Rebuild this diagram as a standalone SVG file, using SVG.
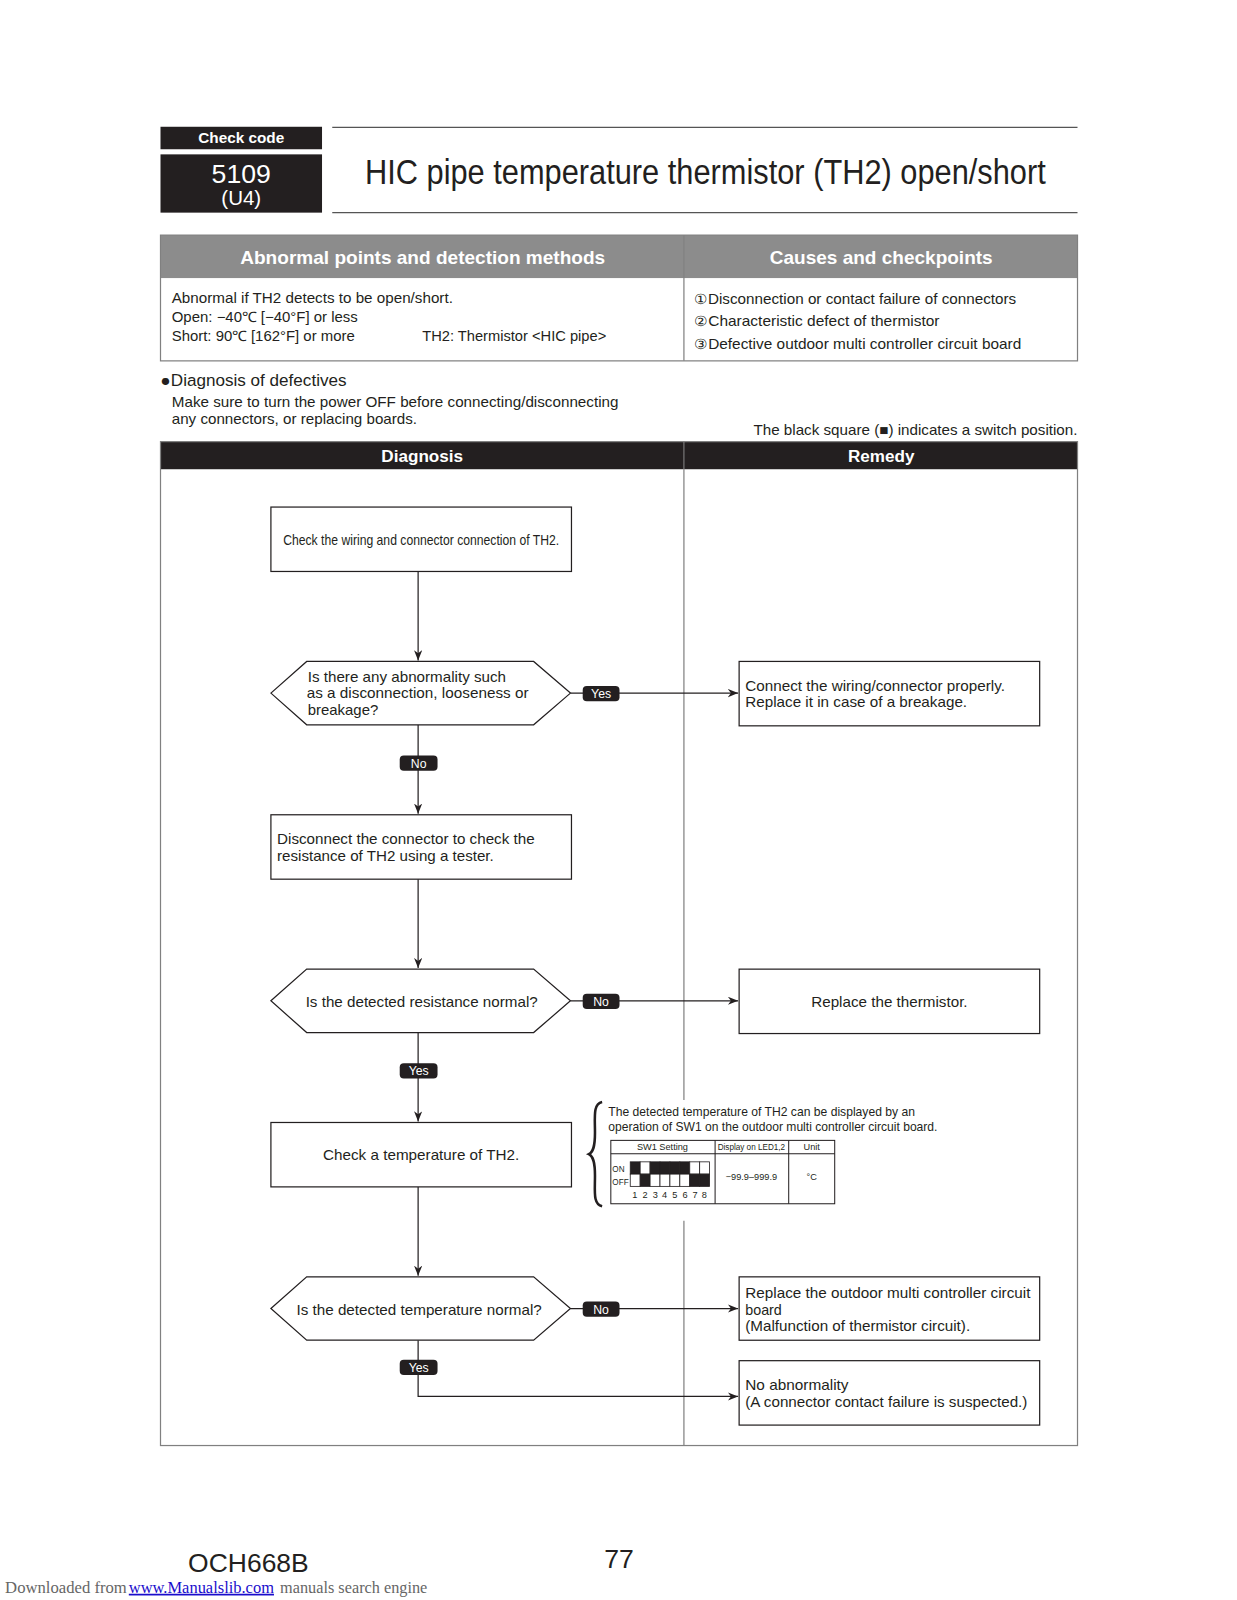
<svg xmlns="http://www.w3.org/2000/svg" width="1237" height="1600" viewBox="0 0 1237 1600">
<style>
text{font-family:"Liberation Sans",Arial,sans-serif;fill:#231f20}
.t14{font-size:14px}
.t12{font-size:12px}
.t9{font-size:9px}
.wb{fill:#fff;font-weight:bold}
.w{fill:#fff}
.box{fill:#fff;stroke:#231f20;stroke-width:1.2}
.ln{fill:none;stroke:#231f20;stroke-width:1.2}
.pill{fill:#231f20}
.pt{fill:#fff;font-size:12px;text-anchor:middle}
.frame{fill:none;stroke:#808080;stroke-width:1.2}
</style>
<defs>
<marker id="ah" markerWidth="12" markerHeight="10" refX="10" refY="4" orient="auto" markerUnits="userSpaceOnUse">
<path d="M0,0 L10,4 L0,8 L3,4 z" fill="#231f20"/>
</marker>
</defs>
<rect width="1237" height="1600" fill="#fff"/>
<g id="page" transform="scale(1.0223)">

<!-- Header -->
<g id="header">
<rect x="157" y="124" width="158" height="22" fill="#231f20"/>
<text x="236" y="140" class="wb" font-size="14" text-anchor="middle" textLength="84" lengthAdjust="spacingAndGlyphs">Check code</text>
<rect x="157" y="151" width="158" height="57" fill="#231f20"/>
<text x="236" y="179" class="w" font-size="26" text-anchor="middle" textLength="58" lengthAdjust="spacingAndGlyphs">5109</text>
<text x="236" y="201" class="w" font-size="20" text-anchor="middle" textLength="39" lengthAdjust="spacingAndGlyphs">(U4)</text>
<line x1="325" y1="124.5" x2="1054" y2="124.5" stroke="#555" stroke-width="1.2"/>
<line x1="325" y1="208" x2="1054" y2="208" stroke="#555" stroke-width="1.2"/>
<text x="357" y="180" font-size="34" textLength="666" lengthAdjust="spacingAndGlyphs">HIC pipe temperature thermistor (TH2) open/short</text>
</g>

<!-- Detection table -->
<g id="detection-table">
<rect x="157" y="230" width="897" height="42" fill="#8c8c8c"/>
<rect x="157" y="230" width="897" height="123" class="frame"/>
<line x1="669" y1="230" x2="669" y2="353" stroke="#808080" stroke-width="1.2"/>
<text x="413.5" y="258" class="wb" font-size="18" text-anchor="middle" textLength="357" lengthAdjust="spacingAndGlyphs">Abnormal points and detection methods</text>
<text x="862" y="258" class="wb" font-size="18" text-anchor="middle" textLength="218" lengthAdjust="spacingAndGlyphs">Causes and checkpoints</text>
<text x="168" y="296" class="t14" textLength="275" lengthAdjust="spacingAndGlyphs">Abnormal if TH2 detects to be open/short.</text>
<text x="168" y="315" class="t14" textLength="182" lengthAdjust="spacingAndGlyphs">Open: −40℃ [−40°F] or less</text>
<text x="168" y="334" class="t14" textLength="179" lengthAdjust="spacingAndGlyphs">Short: 90℃ [162°F] or more</text>
<text x="413" y="334" class="t14" textLength="180" lengthAdjust="spacingAndGlyphs">TH2: Thermistor &lt;HIC pipe&gt;</text>
<text x="679" y="297" class="t14" textLength="315" lengthAdjust="spacingAndGlyphs">①Disconnection or contact failure of connectors</text>
<text x="679" y="319" class="t14" textLength="240" lengthAdjust="spacingAndGlyphs">②Characteristic defect of thermistor</text>
<text x="679" y="341" class="t14" textLength="320" lengthAdjust="spacingAndGlyphs">③Defective outdoor multi controller circuit board</text>
</g>

<g id="notes">
<text x="157" y="378" font-size="16" textLength="182" lengthAdjust="spacingAndGlyphs">●Diagnosis of defectives</text>
<text x="168" y="398" class="t14" textLength="437" lengthAdjust="spacingAndGlyphs">Make sure to turn the power OFF before connecting/disconnecting</text>
<text x="168" y="415" class="t14" textLength="240" lengthAdjust="spacingAndGlyphs">any connectors, or replacing boards.</text>
<text x="1054" y="426" class="t14" text-anchor="end" textLength="317" lengthAdjust="spacingAndGlyphs">The black square (■) indicates a switch position.</text>
</g>

<!-- Diagnosis frame -->
<g id="diagnosis-frame">
<rect x="157" y="432" width="897" height="27" fill="#231f20"/>
<rect x="157" y="432" width="897" height="982" class="frame"/>
<line x1="669" y1="432" x2="669" y2="459" stroke="#888" stroke-width="1"/>
<line x1="669" y1="459" x2="669" y2="1076" stroke="#808080" stroke-width="1.2"/>
<line x1="669" y1="1194" x2="669" y2="1414" stroke="#808080" stroke-width="1.2"/>
<text x="413" y="452" class="wb" font-size="16" text-anchor="middle" textLength="80" lengthAdjust="spacingAndGlyphs">Diagnosis</text>
<text x="862" y="452" class="wb" font-size="16" text-anchor="middle" textLength="65" lengthAdjust="spacingAndGlyphs">Remedy</text>
</g>

<!-- Connectors -->
<g id="connectors">
<line x1="409" y1="559" x2="409" y2="646" class="ln" marker-end="url(#ah)"/>
<line x1="558" y1="678" x2="722" y2="678" class="ln" marker-end="url(#ah)"/>
<line x1="409" y1="709" x2="409" y2="796" class="ln" marker-end="url(#ah)"/>
<line x1="409" y1="860" x2="409" y2="947" class="ln" marker-end="url(#ah)"/>
<line x1="558" y1="979" x2="722" y2="979" class="ln" marker-end="url(#ah)"/>
<line x1="409" y1="1010" x2="409" y2="1097" class="ln" marker-end="url(#ah)"/>
<line x1="409" y1="1161" x2="409" y2="1248" class="ln" marker-end="url(#ah)"/>
<line x1="558" y1="1280" x2="722" y2="1280" class="ln" marker-end="url(#ah)"/>
<polyline points="409,1311 409,1366 722,1366" class="ln" marker-end="url(#ah)"/>
<rect x="570" y="671" width="36" height="15" rx="4" class="pill"/>
<text x="588" y="683" class="pt">Yes</text>
<rect x="391" y="739" width="37" height="15" rx="4" class="pill"/>
<text x="409.5" y="751" class="pt">No</text>
<rect x="570" y="972" width="36" height="15" rx="4" class="pill"/>
<text x="588" y="984" class="pt">No</text>
<rect x="391" y="1040" width="37" height="15" rx="4" class="pill"/>
<text x="409.5" y="1052" class="pt">Yes</text>
<rect x="570" y="1273" width="36" height="15" rx="4" class="pill"/>
<text x="588" y="1285" class="pt">No</text>
<rect x="391" y="1330" width="37" height="15" rx="4" class="pill"/>
<text x="409.5" y="1342" class="pt">Yes</text>
</g>

<!-- Nodes -->
<g id="n1">
<rect x="265" y="496" width="294" height="63" class="box"/>
<text x="412" y="533" class="t14" text-anchor="middle" textLength="270" lengthAdjust="spacingAndGlyphs">Check the wiring and connector connection of TH2.</text>
</g>
<g id="d1">
<polygon points="265,678 300,647 522,647 558,678 522,709 300,709" class="box"/>
<text x="301" y="667" class="t14" textLength="194" lengthAdjust="spacingAndGlyphs">Is there any abnormality such</text>
<text x="300" y="683" class="t14" textLength="217" lengthAdjust="spacingAndGlyphs">as a disconnection, looseness or</text>
<text x="301" y="699" class="t14" textLength="69" lengthAdjust="spacingAndGlyphs">breakage?</text>
</g>
<g id="r1">
<rect x="723" y="647" width="294" height="63" class="box"/>
<text x="729" y="676" class="t14" textLength="254" lengthAdjust="spacingAndGlyphs">Connect the wiring/connector properly.</text>
<text x="729" y="692" class="t14" textLength="217" lengthAdjust="spacingAndGlyphs">Replace it in case of a breakage.</text>
</g>
<g id="n2">
<rect x="265" y="797" width="294" height="63" class="box"/>
<text x="271" y="826" class="t14" textLength="252" lengthAdjust="spacingAndGlyphs">Disconnect the connector to check the</text>
<text x="271" y="842" class="t14" textLength="212" lengthAdjust="spacingAndGlyphs">resistance of TH2 using a tester.</text>
</g>
<g id="d2">
<polygon points="265,979 300,948 522,948 558,979 522,1010 300,1010" class="box"/>
<text x="412.5" y="985" class="t14" text-anchor="middle" textLength="227" lengthAdjust="spacingAndGlyphs">Is the detected resistance normal?</text>
</g>
<g id="r2">
<rect x="723" y="948" width="294" height="63" class="box"/>
<text x="870" y="985" class="t14" text-anchor="middle" textLength="153" lengthAdjust="spacingAndGlyphs">Replace the thermistor.</text>
</g>
<g id="n3">
<rect x="265" y="1098" width="294" height="63" class="box"/>
<text x="412" y="1135" class="t14" text-anchor="middle" textLength="192" lengthAdjust="spacingAndGlyphs">Check a temperature of TH2.</text>
</g>
<g id="note-sw1">
<path d="M589,1078 C580,1080 582,1092 582,1108 C582,1122 580,1127 576,1129 C580,1131 582,1136 582,1150 C582,1166 580,1178 589,1180" fill="none" stroke="#231f20" stroke-width="2.5"/>
<text x="595" y="1092" class="t12" textLength="300" lengthAdjust="spacingAndGlyphs">The detected temperature of TH2 can be displayed by an</text>
<text x="595" y="1106" class="t12" textLength="322" lengthAdjust="spacingAndGlyphs">operation of SW1 on the outdoor multi controller circuit board.</text>
<rect x="597.5" y="1115.5" width="219" height="62" fill="#fff" stroke="#231f20" stroke-width="1"/>
<line x1="597.5" y1="1128.5" x2="816.5" y2="1128.5" stroke="#231f20" stroke-width="1"/>
<line x1="699.5" y1="1115.5" x2="699.5" y2="1177.5" stroke="#231f20" stroke-width="1"/>
<line x1="771.5" y1="1115.5" x2="771.5" y2="1177.5" stroke="#231f20" stroke-width="1"/>
<text x="648" y="1125" class="t9" text-anchor="middle">SW1 Setting</text>
<text x="735" y="1125" class="t9" text-anchor="middle" textLength="66" lengthAdjust="spacingAndGlyphs">Display on LED1,2</text>
<text x="794" y="1125" class="t9" text-anchor="middle">Unit</text>
<text x="599" y="1146" font-size="8">ON</text>
<text x="599" y="1159" font-size="8">OFF</text>
<g stroke="#231f20" stroke-width="0.8">
<rect x="616.5" y="1136.5" width="9.7" height="12" fill="#231f20"/>
<rect x="626.2" y="1136.5" width="9.7" height="12" fill="#fff"/>
<rect x="635.9" y="1136.5" width="9.7" height="12" fill="#231f20"/>
<rect x="645.6" y="1136.5" width="9.7" height="12" fill="#231f20"/>
<rect x="655.3" y="1136.5" width="9.7" height="12" fill="#231f20"/>
<rect x="665" y="1136.5" width="9.7" height="12" fill="#231f20"/>
<rect x="674.7" y="1136.5" width="9.7" height="12" fill="#fff"/>
<rect x="684.4" y="1136.5" width="9.7" height="12" fill="#fff"/>
<rect x="616.5" y="1148.5" width="9.7" height="12" fill="#fff"/>
<rect x="626.2" y="1148.5" width="9.7" height="12" fill="#231f20"/>
<rect x="635.9" y="1148.5" width="9.7" height="12" fill="#fff"/>
<rect x="645.6" y="1148.5" width="9.7" height="12" fill="#fff"/>
<rect x="655.3" y="1148.5" width="9.7" height="12" fill="#fff"/>
<rect x="665" y="1148.5" width="9.7" height="12" fill="#fff"/>
<rect x="674.7" y="1148.5" width="9.7" height="12" fill="#231f20"/>
<rect x="684.4" y="1148.5" width="9.7" height="12" fill="#231f20"/>
</g>
<text x="621" y="1172" class="t9" text-anchor="middle">1</text>
<text x="631" y="1172" class="t9" text-anchor="middle">2</text>
<text x="641" y="1172" class="t9" text-anchor="middle">3</text>
<text x="650" y="1172" class="t9" text-anchor="middle">4</text>
<text x="660" y="1172" class="t9" text-anchor="middle">5</text>
<text x="670" y="1172" class="t9" text-anchor="middle">6</text>
<text x="680" y="1172" class="t9" text-anchor="middle">7</text>
<text x="689" y="1172" class="t9" text-anchor="middle">8</text>
<text x="735" y="1154" class="t9" text-anchor="middle">−99.9–999.9</text>
<text x="794" y="1154" class="t9" text-anchor="middle">°C</text>
</g>
<g id="d3">
<polygon points="265,1280 300,1249 522,1249 558,1280 522,1311 300,1311" class="box"/>
<text x="410" y="1286" class="t14" text-anchor="middle" textLength="240" lengthAdjust="spacingAndGlyphs">Is the detected temperature normal?</text>
</g>
<g id="r3">
<rect x="723" y="1249" width="294" height="62" class="box"/>
<text x="729" y="1270" class="t14" textLength="279" lengthAdjust="spacingAndGlyphs">Replace the outdoor multi controller circuit</text>
<text x="729" y="1286" class="t14">board</text>
<text x="729" y="1302" class="t14" textLength="220" lengthAdjust="spacingAndGlyphs">(Malfunction of thermistor circuit).</text>
</g>
<g id="r4">
<rect x="723" y="1331" width="294" height="63" class="box"/>
<text x="729" y="1360" class="t14" textLength="101" lengthAdjust="spacingAndGlyphs">No abnormality</text>
<text x="729" y="1376" class="t14" textLength="276" lengthAdjust="spacingAndGlyphs">(A connector contact failure is suspected.)</text>
</g>

<!-- Footer -->
<g id="footer">
<text x="184" y="1538" font-size="26" textLength="118" lengthAdjust="spacingAndGlyphs">OCH668B</text>
<text x="591" y="1534" font-size="26" textLength="29" lengthAdjust="spacingAndGlyphs">77</text>
<text x="5" y="1558" font-size="17" style="font-family:'Liberation Serif','Times New Roman',serif;fill:#666" textLength="119" lengthAdjust="spacingAndGlyphs">Downloaded from</text>
<text x="126" y="1558" font-size="17" style="font-family:'Liberation Serif','Times New Roman',serif;fill:#1a0dcc" text-decoration="underline" textLength="142" lengthAdjust="spacingAndGlyphs">www.Manualslib.com</text>
<text x="274" y="1558" font-size="17" style="font-family:'Liberation Serif','Times New Roman',serif;fill:#666" textLength="144" lengthAdjust="spacingAndGlyphs">manuals search engine</text>
</g>
</g>
</svg>
